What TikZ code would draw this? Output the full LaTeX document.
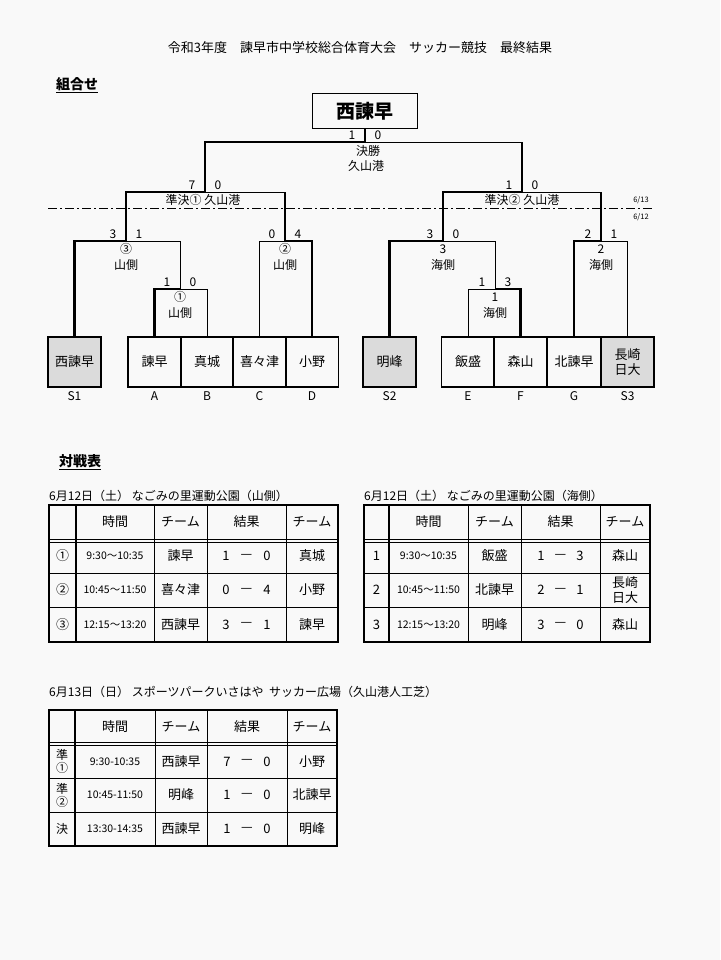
\documentclass[tikz,border=0pt]{standalone}
\usepackage{fontspec}
\setmainfont{Noto Sans CJK JP}
\tikzset{
  team/.style={draw, line width=1.4pt, minimum width=53pt, minimum height=50pt, inner sep=0pt, align=center, font=\fontsize{13}{15}\selectfont},
  seed/.style={team, fill=gray!28},
  win/.style={line width=2.2pt},
  lose/.style={line width=0.7pt},
  lbl/.style={font=\fontsize{12}{14}\selectfont, inner sep=0pt},
  cell/.style={font=\fontsize{13}{15}\selectfont, inner sep=0pt, align=center},
  tcell/.style={font=\fontsize{10.5}{12}\selectfont, inner sep=0pt},
  grid/.style={line width=0.7pt},
  frame/.style={line width=1.2pt},
}
\begin{document}
\begin{tikzpicture}[x=1pt, y=-1pt]
  \fill[gray!5] (0,0) rectangle (720,960);
  \useasboundingbox (0,0) rectangle (720,960);

  % headings
  \node[font=\fontsize{13}{15}\selectfont, inner sep=0pt] (title) at (360,48) {令和3年度\quad 諫早市中学校総合体育大会\quad サッカー競技\quad 最終結果};
  \node[font=\fontsize{14}{16}\selectfont\bfseries, inner sep=0pt] (kumi) at (77,85) {\underline{組合せ}};
  \node[font=\fontsize{14}{16}\selectfont\bfseries, inner sep=0pt] (taisen) at (80,462) {\underline{対戦表}};

  % teams
  \foreach \n/\x/\t/\s in {S1/74.5/西諫早/seed, A/154.5/諫早/team, B/207/真城/team, C/259.5/喜々津/team, D/312/小野/team,
      S2/389.5/明峰/seed, E/468/飯盛/team, F/520.5/森山/team, G/574/北諫早/team, S3/627.5/{長崎\\日大}/seed} {
    \node[\s] (\n) at (\x,362) {\t};
    \node[lbl] (\n-l) at (\x,396) {\n};
  }
  \node[draw, line width=1.4pt, minimum width=105pt, minimum height=35pt, font=\fontsize{19}{21}\selectfont\bfseries] (champ) at (365,111) {西諫早};

  % bracket points
  \coordinate (m1) at (180,289);
  \coordinate (m3) at (126,241);
  \coordinate (m2) at (285,241);
  \coordinate (sf1) at (205,192);
  \coordinate (r1) at (495,289);
  \coordinate (q3) at (443,241);
  \coordinate (q2) at (601,241);
  \coordinate (sf2) at (522,192);
  \coordinate (fin) at (365,142);

  \draw[win] (A.north) |- (m1);
  \draw[lose] (B.north) |- (m1);
  \draw[win] (S1.north) |- (m3);
  \draw[lose] (m1) |- (m3);
  \draw[lose] (C.north) |- (m2);
  \draw[win] (D.north) |- (m2);
  \draw[win] (m3) |- (sf1);
  \draw[win] (m2) -- (m2|-sf1);
  \draw[lose] (m2|-sf1) -- (sf1);

  \draw[lose] (E.north) |- (r1);
  \draw[win] (F.north) |- (r1);
  \draw[win] (S2.north) |- (q3);
  \draw[lose] (r1) |- (q3);
  \draw[win] (G.north) |- (q2);
  \draw[lose] (S3.north) |- (q2);
  \draw[win] (q3) |- (sf2);
  \draw[win] (q2) -- (q2|-sf2);
  \draw[lose] (q2|-sf2) -- (sf2);

  \draw[win] (sf1) |- (fin);
  \draw[win] (sf2) -- (sf2|-fin);
  \draw[lose] (sf2|-fin) -- (fin);
  \draw[win] (fin) -- (champ.south);

  % scores
  \foreach \c/\a/\b [count=\k] in {m1/1/0, m3/3/1, m2/0/4, sf1/7/0, r1/1/3, q3/3/0, q2/2/1, sf2/1/0, fin/1/0} {
    \node[lbl, anchor=south] (sa\k) at ([xshift=-13pt, yshift=2pt]\c) {\a};
    \node[lbl, anchor=south] (sb\k) at ([xshift=13pt, yshift=2pt]\c) {\b};
  }
  \foreach \c/\a/\b [count=\k] in {m1/①/山側, m3/③/山側, m2/②/山側, r1/1/海側, q3/3/海側, q2/2/海側} {
    \node[lbl] (na\k) at ([yshift=-8pt]\c) {\a};
    \node[lbl] (nb\k) at ([yshift=-24pt]\c) {\b};
  }
  \node[lbl] (fl1) at (368,151) {決勝};
  \node[lbl] (fl2) at (366,166) {久山港};
  \node[lbl] (sl1) at (203,200) {準決①\ 久山港};
  \node[lbl] (sl2) at (522,200) {準決②\ 久山港};

  % day line
  \draw[line width=0.8pt, dash pattern=on 9pt off 3pt on 2pt off 3pt] (48,208) coordinate (d1) -- (652,208) coordinate (d2);
  \node[font=\fontsize{7.5}{8}\selectfont, inner sep=0pt] (d13) at (641,200) {6/13};
  \node[font=\fontsize{7.5}{8}\selectfont, inner sep=0pt] (d12) at (641,217) {6/12};

  % table 1
  \node[lbl, anchor=west] (cap1) at (49,496) {6月12日（土）\ なごみの里運動公園（山側）};
  \draw[frame] (49,505) rectangle (338,642);
  \foreach \x in {154,207,286} \draw[grid] (\x,505) -- (\x,642);
  \draw[frame] (76,505) -- (76,642);
  \foreach \y in {573,607} \draw[grid] (49,\y) -- (338,\y);
  \draw[grid] (49,539) -- (338,539);
  \draw[grid] (49,542) -- (338,542);
  \foreach \x/\t [count=\k] in {115/時間, 180.5/チーム, 246.5/結果, 312/チーム}
    \node[cell] (h1\k) at (\x,522) {\t};
  \foreach \y/\a/\b/\c/\d/\e/\f [count=\k] in {556/①/9:30～10:35/諫早/1/0/真城, 590/②/10:45～11:50/喜々津/0/4/小野, 624.5/③/12:15～13:20/西諫早/3/1/諫早} {
    \node[cell] (a1\k) at (62.5,\y) {\a};
    \node[tcell] (b1\k) at (115,\y) {\b};
    \node[cell] (c1\k) at (180.5,\y) {\c};
    \node[cell] (d1\k) at (226,\y) {\d};
    \node[cell] (x1\k) at (246.5,\y) {—};
    \node[cell] (e1\k) at (267,\y) {\e};
    \node[cell] (f1\k) at (312,\y) {\f};
  }

  % table 2
  \node[lbl, anchor=west] (cap2) at (364,496) {6月12日（土）\ なごみの里運動公園（海側）};
  \draw[frame] (364,505) rectangle (650,642);
  \foreach \x in {468,521,600} \draw[grid] (\x,505) -- (\x,642);
  \draw[frame] (389,505) -- (389,642);
  \foreach \y in {573,607} \draw[grid] (364,\y) -- (650,\y);
  \draw[grid] (364,539) -- (650,539);
  \draw[grid] (364,542) -- (650,542);
  \foreach \x/\t [count=\k] in {428.5/時間, 494.5/チーム, 560.5/結果, 625/チーム}
    \node[cell] (h2\k) at (\x,522) {\t};
  \foreach \y/\a/\b/\c/\d/\e/\f [count=\k] in {556/1/9:30～10:35/飯盛/1/3/森山, 590/2/10:45～11:50/北諫早/2/1/{長崎\\日大}, 624.5/3/12:15～13:20/明峰/3/0/森山} {
    \node[cell] (a2\k) at (376.5,\y) {\a};
    \node[tcell] (b2\k) at (428.5,\y) {\b};
    \node[cell] (c2\k) at (494.5,\y) {\c};
    \node[cell] (d2\k) at (541,\y) {\d};
    \node[cell] (x2\k) at (560.5,\y) {—};
    \node[cell] (e2\k) at (580,\y) {\e};
    \node[cell] (f2\k) at (625,\y) {\f};
  }

  % table 3
  \node[lbl, anchor=west] (cap3) at (49,692) {6月13日（日）\ スポーツパークいさはや\ \ サッカー広場（久山港人工芝）};
  \draw[frame] (49,710) rectangle (337,846);
  \foreach \x in {155,207,287} \draw[grid] (\x,710) -- (\x,846);
  \draw[frame] (75,710) -- (75,846);
  \foreach \y in {778,812} \draw[grid] (49,\y) -- (337,\y);
  \draw[grid] (49,742) -- (337,742);
  \draw[grid] (49,745) -- (337,745);
  \foreach \x/\t [count=\k] in {115/時間, 181/チーム, 247/結果, 312/チーム}
    \node[cell] (h3\k) at (\x,727) {\t};
  \foreach \y/\a/\b/\c/\d/\e/\f [count=\k] in {761.5/{準\\①}/9:30-10:35/西諫早/7/0/小野, 795/{準\\②}/10:45-11:50/明峰/1/0/北諫早, 829/決/13:30-14:35/西諫早/1/0/明峰} {
    \node[cell, font=\fontsize{12}{13}\selectfont] (a3\k) at (62,\y) {\a};
    \node[tcell] (b3\k) at (115,\y) {\b};
    \node[cell] (c3\k) at (181,\y) {\c};
    \node[cell] (d3\k) at (227,\y) {\d};
    \node[cell] (x3\k) at (247,\y) {—};
    \node[cell] (e3\k) at (267,\y) {\e};
    \node[cell] (f3\k) at (312,\y) {\f};
  }
\end{tikzpicture}
\end{document}
